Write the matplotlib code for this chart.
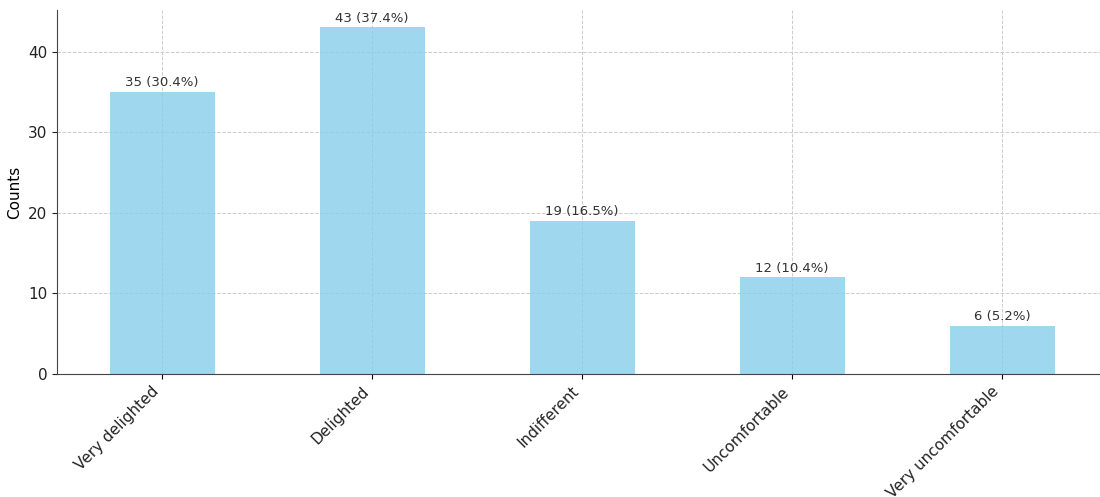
import matplotlib.pyplot as plt

categories = ["Very delighted", "Delighted", "Indifferent", "Uncomfortable", "Very uncomfortable"]
counts = [35, 43, 19, 12, 6]

total = sum(counts)

fig = plt.figure(figsize=(11, 4.97), dpi=100)
ax = fig.add_axes([57 / 1100, 123 / 497, 1050 / 1100, 364 / 497])

x = range(len(categories))
ax.bar(x, counts, width=0.5, color="skyblue", alpha=0.8, zorder=2)

for i, c in enumerate(counts):
    ax.text(i, c + 0.3, f"{c} ({c / total * 100:.1f}%)", ha="center", va="bottom",
            fontsize=9.5, color="#333333")

ax.set_xlim(-0.5, len(categories) - 0.5)
ax.set_ylim(0, max(counts) * 1.05)
ax.set_xticks(list(x))
ax.set_xticklabels(categories, rotation=45, ha="right", fontsize=11, color="#222222")
ax.tick_params(axis="y", labelsize=11, colors="#222222")
ax.set_ylabel("Counts", fontsize=11)

ax.grid(True, linestyle="--", color="#cccccc", linewidth=0.7, zorder=0)
ax.set_axisbelow(True)
for s in ["top", "right"]:
    ax.spines[s].set_visible(False)
for s in ["left", "bottom"]:
    ax.spines[s].set_color("#444444")

fig.savefig("out.png", dpi=100)
